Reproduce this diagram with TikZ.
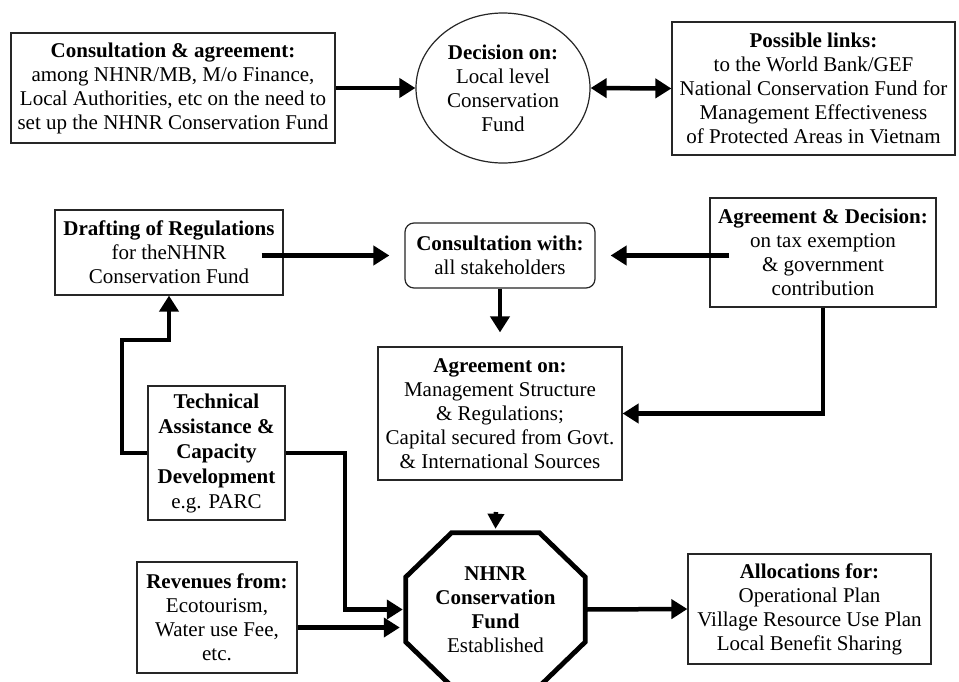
\documentclass[tikz,border=0pt]{standalone}
\usepackage{fontspec}
\setmainfont{Liberation Serif}
\usetikzlibrary{arrows.meta,shapes.geometric,calc}
\newcommand\fsz{\fontsize{21}{24}\selectfont}
\tikzset{
  box/.style={draw=black!85, line width=1.2pt, align=center, inner sep=0pt, font=\fsz, fill=white},
  arr/.style={line width=4.5pt, -{Triangle[length=16pt,width=19pt]}},
  darr/.style={line width=4.5pt, {Triangle[length=16pt,width=19pt]}-{Triangle[length=16pt,width=19pt]}},
}
\begin{document}
\begin{tikzpicture}[x=1pt,y=-1pt]
\useasboundingbox (0,0) rectangle (959,681);
\fill[white] (0,0) rectangle (959,681);
\clip (0,0) rectangle (959,681);

\node[box, minimum width=324pt, minimum height=110pt] (c1) at (173,88)
  {\textbf{Consultation \& agreement:}\\among NHNR/MB, M/o Finance,\\Local Authorities, etc on the need to\\set up the NHNR Conservation Fund};
\node[box, ellipse, minimum width=174pt, minimum height=150pt] (dec) at (503,88)
  {\textbf{Decision on:}\\Local level\\Conservation\\Fund};
\node[box, minimum width=283pt, minimum height=133pt] (links) at (813.5,88.5)
  {\textbf{Possible links:}\\to the World Bank/GEF\\National Conservation Fund for\\Management Effectiveness\\of Protected Areas in Vietnam};

\node[box, minimum width=228pt, minimum height=85pt] (draft) at (169,252.5)
  {\textbf{Drafting of Regulations}\\for theNHNR\\Conservation Fund};
\node[box, rounded corners=9pt, minimum width=190pt, minimum height=65pt] (cons) at (500,255.5)
  {\textbf{Consultation with:}\\all stakeholders};
\node[box, minimum width=226pt, minimum height=109pt] (agd) at (823,252.5)
  {\textbf{Agreement \& Decision:}\\on tax exemption\\\& government\\contribution};
\node[box, minimum width=244pt, minimum height=133pt] (agon) at (500,413.5)
  {\textbf{Agreement on:}\\Management Structure\\\& Regulations;\\Capital secured from Govt.\\\& International Sources};
\node[box, minimum width=137pt, minimum height=134pt, font=\fontsize{21}{25}\selectfont] (tech) at (216.5,453)
  {\textbf{Technical}\\\textbf{Assistance \&}\\\textbf{Capacity}\\\textbf{Development}\\e.g. PARC};
\node[box, minimum width=160pt, minimum height=111pt] (rev) at (217,617.5)
  {\textbf{Revenues from:}\\Ecotourism,\\Water use Fee,\\etc.};
\node[box, minimum width=243pt, minimum height=110pt] (alloc) at (809.5,609)
  {\textbf{Allocations for:}\\Operational Plan\\Village Resource Use Plan\\Local Benefit Sharing};

% octagon
\node[align=center, inner sep=0pt, font=\fsz, minimum width=179pt, minimum height=153pt] (fund) at (495.5,609.5)
  {\textbf{NHNR}\\\textbf{Conservation}\\\textbf{Fund}\\Established};
\draw[line width=4.8pt, line join=miter]
  ($(fund.north)+(-44,0)$) -- ($(fund.north)+(44,0)$) -- ($(fund.east)+(0,-32.5)$) -- ($(fund.east)+(0,32.5)$)
  -- ($(fund.south)+(44,0)$) -- ($(fund.south)+(-44,0)$) -- ($(fund.west)+(0,32.5)$) -- ($(fund.west)+(0,-32.5)$) -- cycle;

% connectors
\draw[arr] (c1.east) -- (dec.west);
\draw[darr] (dec.east) -- (links.west);
\draw[arr] ([xshift=-22pt]draft.east |- cons.west) -- ([xshift=-15pt]cons.west);
\draw[arr] ([xshift=20pt]agd.west |- cons.east) -- ([xshift=15pt]cons.east);
\draw[arr] (cons.south) -- ([yshift=14pt]agon.north);
\draw[arr] (agd.south) |- (agon.east);
\coordinate (t1) at (122,340);
\draw[arr, line join=miter] (tech.west) -| (t1) -| (draft.south);
\coordinate (t2) at (345,453);
\draw[arr, line join=miter] (tech.east) -- (t2) |- ([xshift=-3pt]fund.west);
\draw[arr] ($(rev.east)+(0,10)$) -- ($(fund.west)+(-6,18)$);
\coordinate (topin) at (496,512);
\draw[line width=4.5pt, -{Triangle[length=15pt,width=16pt]}] (topin) -- ([yshift=4pt]fund.north);
\draw[arr] (fund.east) -- (alloc.west);
\end{tikzpicture}
\end{document}
